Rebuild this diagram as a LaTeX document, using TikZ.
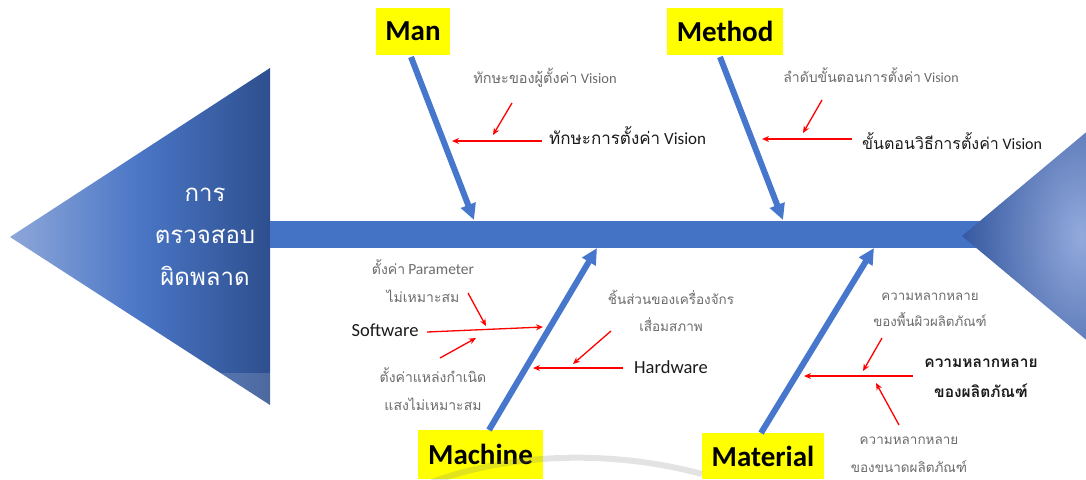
\documentclass[tikz,border=0pt]{standalone}
\usepackage{fontspec}
\setmainfont{Carlito}
\newfontfamily\thai[Script=Thai]{Loma}
\usetikzlibrary{arrows.meta,shapes.geometric}
\definecolor{spine}{HTML}{4472C4}
\definecolor{bonec}{HTML}{4677CC}
\definecolor{headlight}{HTML}{8EA7D9}
\definecolor{headmid}{HTML}{4A76C6}
\definecolor{headdark}{HTML}{2E4F8E}
\definecolor{tailin}{HTML}{93AADC}
\definecolor{tailout}{HTML}{3558A0}
\definecolor{labgray}{HTML}{6B6B6B}
\definecolor{labblack}{HTML}{1A1A1A}
\definecolor{catyellow}{HTML}{FFFF00}
\tikzset{
  catbox/.style={fill=catyellow, inner sep=0pt, minimum height=47pt, text=black,
    font=\fontsize{29}{32}\selectfont\bfseries},
  bone/.style={draw=bonec, line width=6pt, -{Triangle[length=16pt,width=15pt]}},
  redarr/.style={draw=red, line width=1.3pt, -{Stealth[length=7pt,width=6pt]}},
  mainlab/.style={text=labblack, font=\fontsize{17}{20}\selectfont, inner sep=0pt},
  sublab/.style={text=labgray, font=\fontsize{14}{28}\selectfont, inner sep=0pt, align=center},
  headtxt/.style={text=white, font=\thai\fontsize{24}{42}\selectfont, align=center, inner sep=0pt}
}
\newcommand{\latbig}[1]{{\fontsize{15.5}{28}\selectfont #1}}
\begin{document}
\begin{tikzpicture}[x=1pt,y=-1pt]
\useasboundingbox (0,0) rectangle (1086,479);
\clip (0,0) rectangle (1086,479);

% head triangle
\shade[left color=headlight, right color=headdark, middle color=headmid]
  (10,237) -- (270,68) -- (270,405) -- cycle;
\fill[white, opacity=0.15] (0,373) rectangle (280,479);

% spine
\fill[spine] (270,221) rectangle (1000,248);

% tail triangle
\shade[inner color=tailin, outer color=tailout]
  (962,236) -- (1200,37) -- (1200,435) -- cycle;

% head text
\node[headtxt] (head) at (205,237) {การ\\ตรวจสอบ\\ผิดพลาด};

% category boxes
\node[catbox, minimum width=74pt] (man) at (413,31.5) {Man};
\node[catbox, minimum width=116pt] (method) at (725,31.5) {Method};
\node[catbox, minimum width=125pt, minimum height=49pt] (machine) at (480.5,454.5) {Machine};
\node[catbox, minimum width=122pt, minimum height=46pt] (material) at (763,456) {Material};

% faint reflection arc
\draw[gray, line width=6pt, opacity=0.22] (432,482) .. controls (520,450) and (620,452) .. (702,474);

% bone endpoints
\coordinate (manS) at (411,57);
\coordinate (manT) at (474,220);
\coordinate (metS) at (720,57);
\coordinate (metT) at (783,220);
\coordinate (macS) at (489,430);
\coordinate (macT) at (597,248);
\coordinate (matS) at (761,433);
\coordinate (matT) at (874,248);

\draw[bone] (manS) -- (manT);
\draw[bone] (metS) -- (metT);
\draw[bone] (macS) -- (macT);
\draw[bone] (matS) -- (matT);

% ---- Man
\node[mainlab, anchor=west] (manL) at (549,136) {{\thai ทักษะการตั้งค่า} Vision};
\node[sublab, font=\fontsize{14.5}{26}\selectfont] (manSub) at (545,78) {{\thai ทักษะของผู้ตั้งค่า} Vision};
\coordinate (manA1) at (542,141);
\coordinate (manA2) at (452,141);
\coordinate (manB1) at (512,103);
\coordinate (manB2) at (493,135);
\draw[redarr] (manA1) -- (manA2);
\draw[redarr] (manB1) -- (manB2);

% ---- Method
\node[mainlab, anchor=west, font=\fontsize{16}{20}\selectfont] (metL) at (862,141) {{\thai ขั้นตอนวิธีการตั้งค่า} Vision};
\node[sublab, font=\fontsize{14}{26}\selectfont] (metSub) at (871,75) {{\thai ลำดับขั้นตอนการตั้งค่า} Vision};
\coordinate (metA1) at (852,139);
\coordinate (metA2) at (762,139);
\coordinate (metB1) at (822,100);
\coordinate (metB2) at (803,133);
\draw[redarr] (metA1) -- (metA2);
\draw[redarr] (metB1) -- (metB2);

% ---- Machine
\node[mainlab, font=\fontsize{18.5}{20}\selectfont] (soft) at (385,330) {Software};
\node[sublab] (softSub1) at (423,281) {{\thai ตั้งค่า} \latbig{Parameter}\\{\thai ไม่เหมาะสม}};
\node[sublab] (softSub2) at (433,389) {{\thai ตั้งค่าแหล่งกำเนิด}\\{\thai แสงไม่เหมาะสม}};
\coordinate (sofA1) at (427,332);
\coordinate (sofA2) at (543,327);
\coordinate (sofB1) at (468,293);
\coordinate (sofB2) at (486,326);
\coordinate (sofC1) at (440,358);
\coordinate (sofC2) at (476,338);
\draw[redarr] (sofA1) -- (sofA2);
\draw[redarr] (sofB1) -- (sofB2);
\draw[redarr] (sofC1) -- (sofC2);

\node[mainlab, font=\fontsize{18.5}{20}\selectfont] (hard) at (671,367) {Hardware};
\node[sublab, font=\thai\fontsize{13.5}{27}\selectfont] (hardSub) at (671,311) {ชิ้นส่วนของเครื่องจักร\\เสื่อมสภาพ};
\coordinate (harA1) at (623,368);
\coordinate (harA2) at (533,368);
\coordinate (harB1) at (611,331);
\coordinate (harB2) at (573,364);
\draw[redarr] (harA1) -- (harA2);
\draw[redarr] (harB1) -- (harB2);

% ---- Material
\node[mainlab, align=center, font=\thai\bfseries\fontsize{15.5}{30}\selectfont] (matL) at (981,378) {ความหลากหลาย\\ของผลิตภัณฑ์};
\node[sublab, font=\thai\fontsize{13.3}{26}\selectfont] (matSub1) at (930,310) {ความหลากหลาย\\ของพื้นผิวผลิตภัณฑ์};
\node[sublab, font=\thai\fontsize{13.5}{28}\selectfont] (matSub2) at (909,455) {ความหลากหลาย\\ของขนาดผลิตภัณฑ์};
\coordinate (matA1) at (913,376);
\coordinate (matA2) at (804,376);
\coordinate (matB1) at (882,338);
\coordinate (matB2) at (863,371);
\coordinate (matC1) at (899,425);
\coordinate (matC2) at (876,383);
\draw[redarr] (matA1) -- (matA2);
\draw[redarr] (matB1) -- (matB2);
\draw[redarr] (matC1) -- (matC2);
\end{tikzpicture}
\end{document}
